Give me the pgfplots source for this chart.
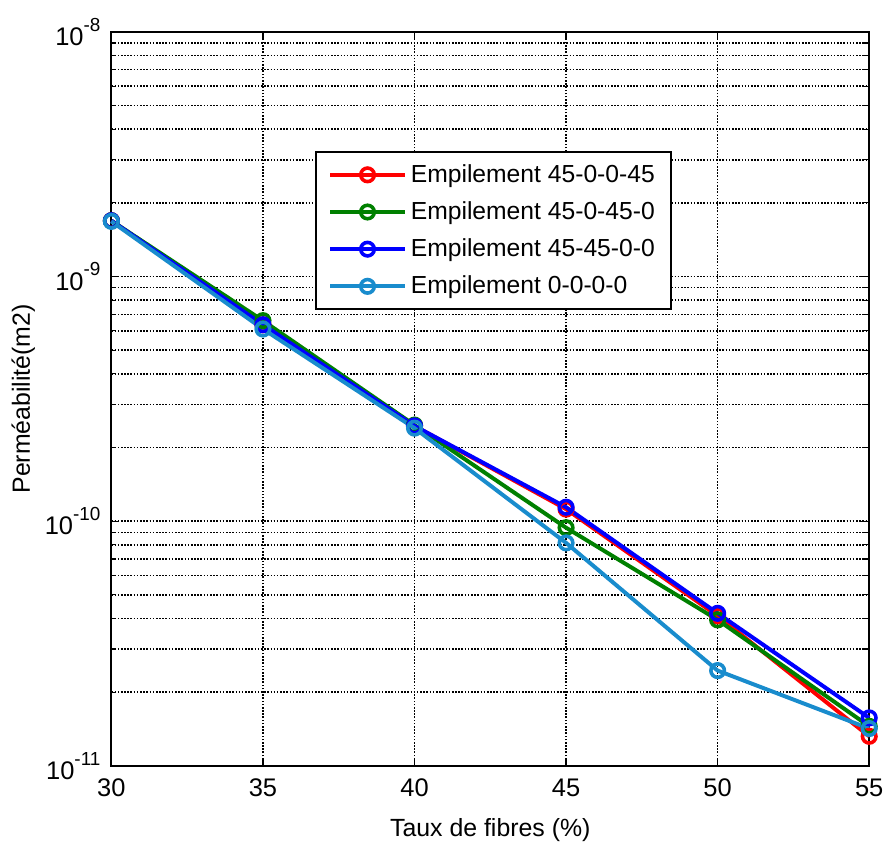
\documentclass[border=0pt]{standalone}
\usepackage{pgfplots}
\pgfplotsset{compat=1.18}
\usepackage{fontspec}
\setmainfont{Liberation Sans}
\definecolor{cred}{rgb}{1,0,0}
\definecolor{cgreen}{rgb}{0,0.5,0}
\definecolor{cblue}{rgb}{0,0,1}
\definecolor{clight}{RGB}{25,140,205}
\newcommand{\pw}[1]{10\raisebox{1.05ex}{\fontsize{9.5}{10}\selectfont #1}}
\begin{document}
\begin{tikzpicture}
\begin{axis}[
  width=381pt, height=369pt, scale only axis,
  ymode=log,
  xmin=30, xmax=55, ymin=1e-11, ymax=1e-8,
  xtick={30,35,40,45,50,55},
  ytick={1e-11,1e-10,1e-9,1e-8},
  yticklabels={\pw{-11},\pw{-10},\pw{-9},\pw{-8}},
  /pgf/number format/assume math mode=true,
  tick align=inside,
  tick style={black, line width=0.6pt},
  major tick length=4pt, minor tick length=2.5pt,
  axis line style={black, line width=1pt},
  grid=both,
  major grid style={black, dash pattern=on 0.8pt off 0.8pt, line width=0.75pt},
  minor grid style={black, dash pattern=on 0.8pt off 0.8pt, line width=0.75pt},
  xminorgrids=false,
  tick label style={font=\fontsize{12.8}{15}\selectfont},
  xticklabel style={yshift=-3pt},
  yticklabel style={xshift=-2pt},
  label style={font=\fontsize{12.5}{15}\selectfont},
  xlabel={Taux de fibres (\%)},
  xlabel style={yshift=-4pt},
  ylabel={Perméabilité(m2)},
  ylabel style={yshift=-2pt},
  clip=false,
  legend style={at={(0.269,0.837)}, anchor=north west, draw=black, line width=1pt,
    font=\fontsize{12.4}{14}\selectfont, row sep=4.2pt, inner xsep=6pt, inner ysep=4pt},
  legend cell align=left,
  legend image code/.code={\draw[mark repeat=2,mark phase=2] plot coordinates {(0cm,0cm)(0.66cm,0cm)(1.32cm,0cm)};},
  every axis plot/.append style={line width=2pt, mark=o, mark size=3.4pt, mark options={solid, line width=1.8pt}},
]
\addplot[cred] coordinates {(30,1.69e-9)(35,6.35e-10)(40,2.45e-10)(45,1.12e-10)(50,4.1e-11)(55,1.32e-11)};
\addlegendentry{Empilement 45-0-0-45}
\addplot[cgreen] coordinates {(30,1.69e-9)(35,6.6e-10)(40,2.47e-10)(45,9.4e-11)(50,3.95e-11)(55,1.45e-11)};
\addlegendentry{Empilement 45-0-45-0}
\addplot[cblue] coordinates {(30,1.69e-9)(35,6.35e-10)(40,2.45e-10)(45,1.14e-10)(50,4.2e-11)(55,1.57e-11)};
\addlegendentry{Empilement 45-45-0-0}
\addplot[clight] coordinates {(30,1.68e-9)(35,6.1e-10)(40,2.40e-10)(45,8.15e-11)(50,2.45e-11)(55,1.42e-11)};
\addlegendentry{Empilement 0-0-0-0}
\path (rel axis cs:0,0) ++(-56pt,-40pt) coordinate (bbll);
\path (rel axis cs:1,1) ++(8pt,16pt) coordinate (bbur);
\end{axis}
\path (bbll) rectangle (bbur);
\end{tikzpicture}
\end{document}
